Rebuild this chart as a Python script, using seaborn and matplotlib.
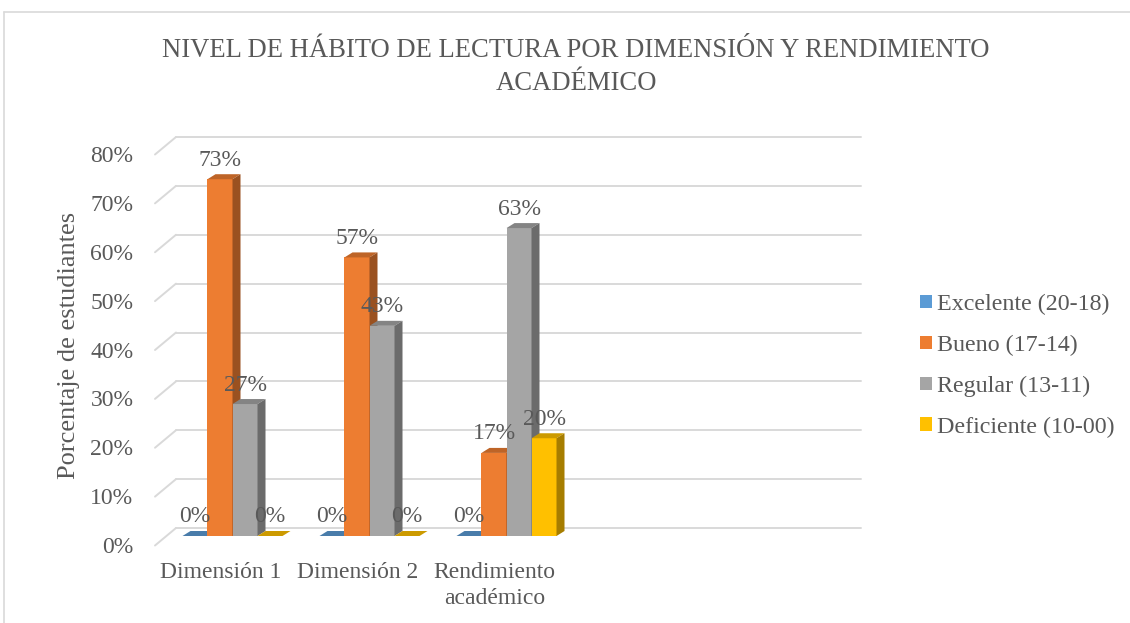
import matplotlib
matplotlib.use("Agg")
import matplotlib.pyplot as plt
import matplotlib.colors as mcolors
from matplotlib.lines import Line2D
from matplotlib.patches import Patch, Polygon
from matplotlib.transforms import ScaledTranslation
import numpy as np
import pandas as pd
import seaborn as sns

# ── datos ──
categorias = ["Dimensión 1", "Dimensión 2", "Rendimiento\nacadémico"]
series = ["Excelente (20-18)", "Bueno (17-14)", "Regular (13-11)", "Deficiente (10-00)"]
excelente = [0, 0, 0]
bueno = [73, 57, 17]
regular = [27, 43, 63]
deficiente = [0, 0, 20]
colores = ["#5B9BD5", "#ED7D31", "#A5A5A5", "#FFC000"]
yticks = [0, 10, 20, 30, 40, 50, 60, 70, 80]

titulo = "NIVEL DE HÁBITO DE LECTURA POR DIMENSIÓN Y RENDIMIENTO\nACADÉMICO"
ylabel = "Porcentaje de estudiantes"

TXT = "#595959"
GRID = "#d9d9d9"
FS = 17

df = pd.DataFrame({
    "cat": categorias * 4,
    "serie": np.repeat(series, len(categorias)),
    "val": excelente + bueno + regular + deficiente,
})

sns.set_theme(style="white")
plt.rcParams["font.family"] = ["Liberation Serif", "DejaVu Serif"]

DPI = 100
fig = plt.figure(figsize=(11.3, 6.23), dpi=DPI)
# plano de las barras (en px): x 164..849, y 0% en 536, 80% en 145
AX_H = 391.0
ax = fig.add_axes([164 / 1130, (623 - 536) / 623, 685 / 1130, AX_H / 623])

sns.barplot(data=df, x="cat", y="val", hue="serie", hue_order=series,
            palette=dict(zip(series, colores)), width=0.73, gap=0,
            saturation=1, errorbar=None, legend=False, ax=ax)

ax.set_xlim(-0.5, 4.5)          # Excel deja espacio para 5 categorías
ax.set_ylim(0, 80)
for s in ax.spines.values():
    s.set_visible(False)
ax.set_xlabel("")

px_x = 685 / 5.0                # px por unidad de categoría
px_y = AX_H / 80.0              # px por punto porcentual

# ── pared del fondo: gridlines desplazadas + diagonales del piso ──
back_dx, back_dy = 12, 8
front_dx, front_dy = -9, -9.5
back = ax.transData + ScaledTranslation(back_dx / DPI, back_dy / DPI, fig.dpi_scale_trans)
for t in yticks:
    ax.plot([-0.5, 4.5], [t, t], color=GRID, lw=1.4, transform=back,
            clip_on=False, zorder=0.5)
    ax.plot([-0.5 + front_dx / px_x, -0.5 + back_dx / px_x],
            [t + front_dy / px_y, t + back_dy / px_y],
            color=GRID, lw=1.4, clip_on=False, zorder=0.5)

# ── barras 3D: cara superior y lateral ──
depth_x, depth_y = 8 / px_x, 5 / px_y
lbl_off = ScaledTranslation(0, 19 / DPI, fig.dpi_scale_trans)
for cont in ax.containers:
    for bar in cont:
        x0, w, h = bar.get_x(), bar.get_width(), bar.get_height()
        rgb = np.array(mcolors.to_rgb(bar.get_facecolor()))
        z = 3 + x0
        bar.set_zorder(z)
        bar.set_edgecolor("none")
        top = Polygon([(x0, h), (x0 + w, h), (x0 + w + depth_x, h + depth_y),
                       (x0 + depth_x, h + depth_y)], closed=True,
                      facecolor=rgb * 0.8, edgecolor="none", zorder=z, clip_on=False)
        side = Polygon([(x0 + w, 0), (x0 + w + depth_x, depth_y),
                        (x0 + w + depth_x, h + depth_y), (x0 + w, h)], closed=True,
                       facecolor=rgb * 0.65, edgecolor="none", zorder=z, clip_on=False)
        ax.add_patch(top)
        ax.add_patch(side)
        ax.text(x0 + w / 2, h, f"{h:.0f}%", ha="center", va="center",
                fontsize=FS, color=TXT, zorder=20,
                transform=ax.transData + lbl_off)

# ── ejes ──
ax.set_yticks(yticks)
ax.set_yticklabels([f"{t}%" for t in yticks], fontsize=FS, color=TXT)
ax.tick_params(axis="y", length=0, pad=22)
ax.tick_params(axis="x", length=0, pad=19, labelsize=FS, labelcolor=TXT)
for lbl in ax.get_yticklabels():
    lbl.set_transform(lbl.get_transform() + ScaledTranslation(0, -9 / DPI, fig.dpi_scale_trans))
for lbl in ax.get_xticklabels():
    lbl.set_linespacing(1.3)
    lbl.set_transform(lbl.get_transform() + ScaledTranslation(-12 / DPI, 0, fig.dpi_scale_trans))

ax.set_ylabel(ylabel, fontsize=19, color=TXT)
ax.yaxis.set_label_coords((80 - 164) / 685, (536 - 345) / AX_H)

fig.text(576 / 1130, 1 - 67 / 623, titulo, ha="center", va="center",
         fontsize=19.2, color=TXT, linespacing=1.45)

handles = [Patch(facecolor=c, edgecolor="none") for c in colores]
fig.legend(handles, series, loc="upper left",
           bbox_to_anchor=(908 / 1130, 1 - 282 / 623), frameon=False,
           fontsize=17.3, handlelength=0.5, handleheight=0.5,
           handletextpad=0.2, labelspacing=0.82, borderpad=0,
           labelcolor=TXT)

# borde del área del gráfico
fig.add_artist(Line2D([4 / 1130, 1.0], [1 - 12 / 623] * 2, color=GRID, lw=1.2))
fig.add_artist(Line2D([4 / 1130] * 2, [0, 1 - 12 / 623], color=GRID, lw=1.2))

fig.savefig("out.png", dpi=DPI, facecolor="white")
